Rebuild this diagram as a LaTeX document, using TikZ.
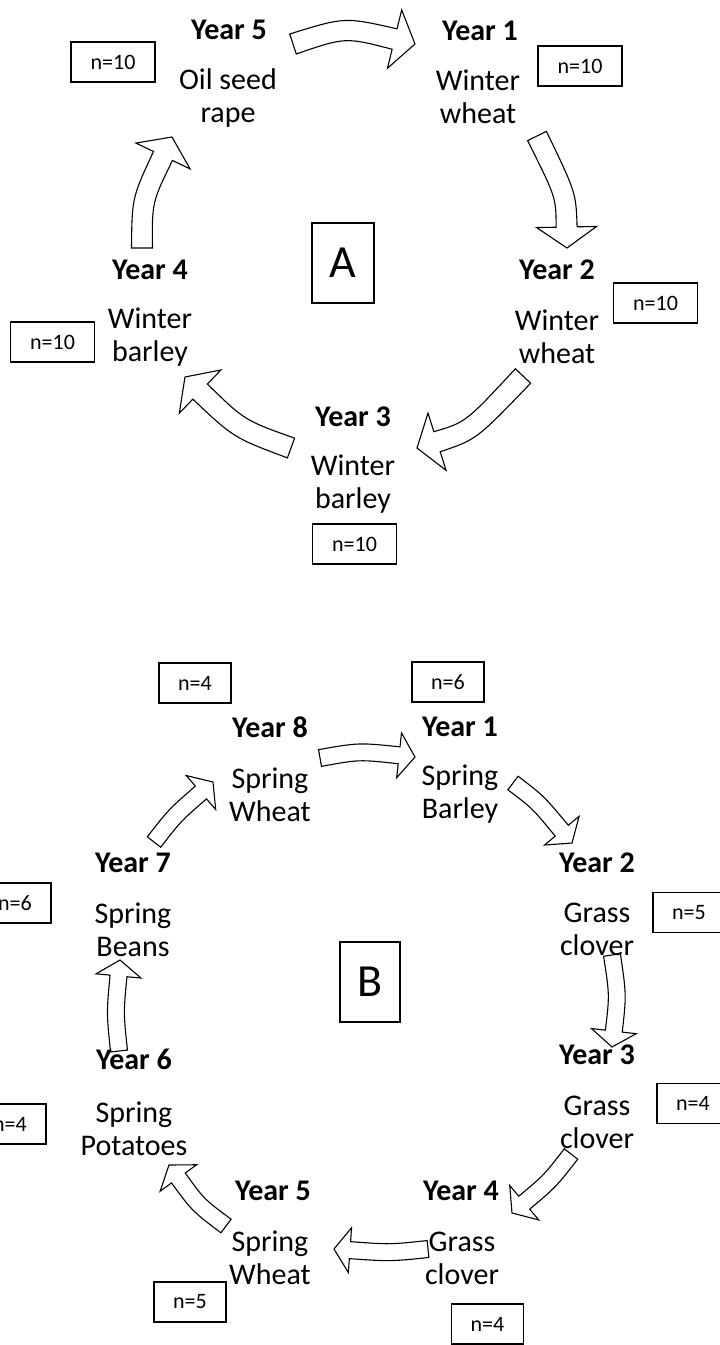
\documentclass[tikz,border=0pt]{standalone}
\usepackage{fontspec}
\setmainfont{Carlito}
\usetikzlibrary{calc}

% arrow sizes (changed per panel)
\def\shaftw{10.5pt}
\def\headw{30pt}
\def\headl{21pt}

% block arrow: tail #1, bend #2, tip #3
\newcommand{\cyclearrow}[3]
{\begin{scope}
	\coordinate (st) at (#1);
	\coordinate (bd) at (#2);
	\coordinate (tp) at (#3);
	\coordinate (hb) at ($(tp)!\headl!(bd)$);
	\coordinate (sl) at ($(st)!\shaftw!90:(bd)$);
	\coordinate (sr) at ($(st)!\shaftw!-90:(bd)$);
	\coordinate (bl) at ($(hb)!\shaftw!-90:(bd)$);
	\coordinate (br) at ($(hb)!\shaftw!90:(bd)$);
	\coordinate (wl) at ($(hb)!\headw!-90:(bd)$);
	\coordinate (wr) at ($(hb)!\headw!90:(bd)$);
	\coordinate (cl1) at ($(bd)+(sl)-(st)$);
	\coordinate (cl2) at ($(bd)+(bl)-(hb)$);
	\coordinate (cr1) at ($(bd)+(sr)-(st)$);
	\coordinate (cr2) at ($(bd)+(br)-(hb)$);
	\draw [cycarrow] (sl) .. controls ($(cl1)!.5!(cl2)$) .. (bl) -- (wl) -- (tp) -- (wr) -- (br) .. controls ($(cr1)!.5!(cr2)$) .. (sr) -- cycle;
	\end{scope}
}

\tikzset{
	yearlbl/.style={font=\fontsize{30}{33}\selectfont\bfseries,inner sep=0pt},
	croplbl/.style={font=\fontsize{30}{33}\selectfont,align=center,inner sep=0pt},
	nbox/.style={draw,line width=1.2pt,font=\fontsize{22}{24}\selectfont,minimum width=84pt,minimum height=40pt,inner sep=0pt},
	panelbox/.style={draw,line width=1.2pt,font=\fontsize{46}{46}\selectfont,minimum width=62pt,minimum height=80pt,inner sep=0pt},
	cycarrow/.style={draw,line width=1.1pt,line join=miter}
}

\begin{document}
\begin{tikzpicture}[x=1pt,y=-1pt]
\useasboundingbox (0,0) rectangle (720,1345);
\clip (0,0) rectangle (720,1345);

% A: five year rotation
\begin{scope}
	\cyclearrow{293,44}{345,27}{415,44};
	\cyclearrow{537,136}{566,195}{567,248};
	\cyclearrow{523,376}{471,431}{417,448};
	\cyclearrow{291,448}{239,429}{185,377};
	\cyclearrow{142,248}{142,200}{172,137};
	\node[panelbox] (pa) at (343,263) {A};
	\node[yearlbl] (ya5) at (229,30) {Year 5};
	\node[croplbl] (ca5) at (228,98) {Oil seed\\rape};
	\node[nbox] (na5) at (113,62) {n=10};
	\node[yearlbl] (ya1) at (480,31) {Year 1};
	\node[croplbl] (ca1) at (478,97) {Winter\\wheat};
	\node[nbox] (na1) at (580,66) {n=10};
	\node[yearlbl] (ya2) at (557,270) {Year 2};
	\node[croplbl] (ca2) at (557,337) {Winter\\wheat};
	\node[nbox] (na2) at (655.5,303) {n=10};
	\node[yearlbl] (ya3) at (353,417) {Year 3};
	\node[croplbl] (ca3) at (353,484.5) {Winter\\barley};
	\node[nbox] (na3) at (354.5,544) {n=10};
	\node[yearlbl] (ya4) at (150,270) {Year 4};
	\node[croplbl] (ca4) at (150,337) {Winter\\barley};
	\node[nbox] (na4) at (52.5,342) {n=10};
\end{scope}

% B: eight year rotation
\begin{scope}[nbox/.append style={minimum width=72pt}]
	\def\shaftw{8.5pt}
	\def\headw{22.5pt}
	\def\headl{16pt}
	\cyclearrow{320,758}{359,751}{415,757};
	\cyclearrow{513,783}{538,802}{572,843};
	\cyclearrow{612,955}{618,995}{612,1047};
	\cyclearrow{571,1154}{550,1181}{512,1213};
	\cyclearrow{428,1249}{390,1253}{334,1249};
	\cyclearrow{226,1226}{198,1205}{169,1165};
	\cyclearrow{119,1051}{115,1013}{120,960};
	\cyclearrow{154,842}{175,815}{213,782};
	\node[panelbox,minimum width=60pt] (pb) at (370,982) {B};
	\node[yearlbl] (yb8) at (270,727) {Year 8};
	\node[croplbl] (cb8) at (270,794.5) {Spring\\Wheat};
	\node[nbox] (nb8) at (195,683) {n=4};
	\node[yearlbl] (yb1) at (460,727) {Year 1};
	\node[croplbl] (cb1) at (460,794.5) {Spring\\Barley};
	\node[nbox] (nb1) at (448,682) {n=6};
	\node[yearlbl] (yb2) at (597,863) {Year 2};
	\node[croplbl] (cb2) at (597,929.5) {Grass\\clover};
	\node[nbox] (nb2) at (689,912.5) {n=5};
	\node[yearlbl] (yb3) at (597,1055) {Year 3};
	\node[croplbl] (cb3) at (597,1122.5) {Grass\\clover};
	\node[nbox] (nb3) at (693,1103.5) {n=4};
	\node[yearlbl] (yb4) at (461,1191) {Year 4};
	\node[croplbl] (cb4) at (462,1258) {Grass\\clover};
	\node[nbox] (nb4) at (487.5,1324) {n=4};
	\node[yearlbl] (yb5) at (273,1191) {Year 5};
	\node[croplbl] (cb5) at (270,1258) {Spring\\Wheat};
	\node[nbox] (nb5) at (190,1302) {n=5};
	\node[yearlbl] (yb6) at (134,1059) {Year 6};
	\node[croplbl] (cb6) at (134,1128.5) {Spring\\Potatoes};
	\node[nbox] (nb6) at (10,1124) {n=4};
	\node[yearlbl] (yb7) at (133,863) {Year 7};
	\node[croplbl] (cb7) at (133,929.5) {Spring\\Beans};
	\node[nbox] (nb7) at (15,903) {n=6};
\end{scope}
\end{tikzpicture}
\end{document}
